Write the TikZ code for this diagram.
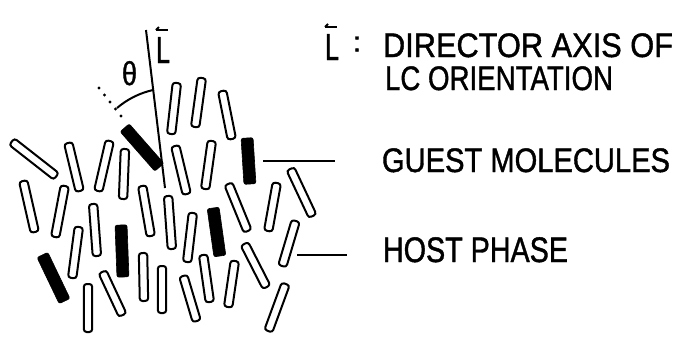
\documentclass[tikz,border=0pt]{standalone}
\usepackage{fontspec}
\setmainfont{Liberation Sans}
\newfontfamily\lbl{Liberation Sans}[FakeBold=1.3]
\usepackage{graphicx}
\usetikzlibrary{calc}
% text of a given width at a given cap size
\newcommand\fitted[3]{\resizebox{#1}{\height}{\fontsize{#2}{#2}\selectfont #3}}
\begin{document}
\begin{tikzpicture}[x=1pt,y=-1pt,
  rodH/.style={draw, fill=white, line width=2pt, rounded corners=2.8pt,
    minimum height=8.4pt, inner sep=0pt, outer sep=0pt},
  rodB/.style={draw, fill=black, line width=0.6pt, rounded corners=2pt,
    minimum height=12pt, inner sep=0pt, outer sep=0pt},
  stroke/.style={line width=2pt},
  lbl/.style={inner sep=0pt, outer sep=0pt, anchor=base west, font=\lbl}]
\useasboundingbox (0,0) rectangle (677,338);

% molecules: end points (top end / bottom end) and kind (H host, B guest)
\foreach \ax/\ay/\bx/\by/\k [count=\i] in {
  11/141/57/177/H, 68/142/80/192/H, 110/140/98/192/H, 125/148/123/200/H,
  124/127/160/168/B, 177/82/171/135/H, 202/77/195/128/H, 222/90/232/140/H,
  175/145/187/195/H, 212/140/205/190/H, 247/137/250/185/B, 228/183/248/232/H,
  277/182/268/232/H, 290/168/313/217/H, 23/180/35/233/H, 65/185/55/238/H,
  93/203/97/257/H, 79/226/72/279/H, 121/224/123/278/B, 42/254/65/302/B,
  88/283/88/333/H, 102/271/123/316/H, 142/185/151/237/H, 168/195/172/250/H,
  143/252/144/302/H, 162/265/162/314/H, 193/212/187/263/H, 213/207/220/257/B,
  203/254/210/303/H, 183/275/197/322/H, 235/260/228/308/H, 244/243/267/288/H,
  296/220/282/267/H, 286/283/268/332/H}
{
  \pgfmathsetmacro\dx{\bx-\ax}
  \pgfmathsetmacro\dy{\ay-\by}
  \pgfmathsetmacro\len{veclen(\dx,\dy)-2}
  \pgfmathsetmacro\ang{atan2(\dy,\dx)}
  \node[rod\k, minimum width=\len pt, rotate=\ang] (rod\i)
    at ({(\ax+\bx)/2},{(\ay+\by)/2}) {};
}

% director axis
\coordinate (dtop) at (146,30);
\coordinate (dbot) at (165,188);
\draw[stroke] (dtop) -- (dbot);

% long axis of a guest molecule, dotted, and the angle to the director
\coordinate (dotA) at (99,88);
\coordinate (dotB) at (121,116);
\draw[line width=3.4pt, line cap=round, dash pattern=on 0pt off 8.9pt] (dotA) -- (dotB);
\coordinate (arcA) at (117,108);
\coordinate (arcB) at (153,90);
\draw[stroke] (arcA) .. controls (127.5,99.1) and (139.5,93.1) .. (arcB);
\node[lbl, anchor=base] (theta) at (129.5,85) {\fitted{15pt}{33}{θ}};

% vector L beside the axis
\node[lbl] (Laxis) at (156,63) {\fitted{14pt}{37.5}{L}};
\draw[line width=1.8pt] ($(Laxis.base west)+(0,-33)$) coordinate (hA)
  -- ++(12,0) coordinate (hB);
\draw[line width=1.8pt] (hA) -- ++(3,-3);

% legend
\node[lbl] (Lkey) at (325,60) {\fitted{14pt}{37.5}{L}};
\draw[line width=1.8pt] ($(Lkey.base west)+(0,-33)$) coordinate (kA)
  -- ++(12,0) coordinate (kB);
\draw[line width=1.8pt] (kA) -- ++(3,-3);
\node[lbl, anchor=base] (colon) at (357,51.5) {\fontsize{28.3}{28.3}\selectfont :};
\node[lbl] (dir1) at (383,57) {\fitted{290pt}{34}{DIRECTOR AXIS OF}};
\node[lbl] (dir2) at (385,90) {\fitted{228pt}{34}{LC ORIENTATION}};
\node[lbl] (guest) at (382,172) {\fitted{288pt}{34}{GUEST MOLECULES}};
\node[lbl] (host) at (383,262) {\fitted{185pt}{35.5}{HOST PHASE}};

% leader lines
\coordinate (gL) at (263,161);
\coordinate (hL) at (297,255);
\draw[stroke, shorten >=47pt] (gL) -- (gL -| guest.west);
\draw[stroke, shorten >=36pt] (hL) -- (hL -| host.west);
\end{tikzpicture}
\end{document}
